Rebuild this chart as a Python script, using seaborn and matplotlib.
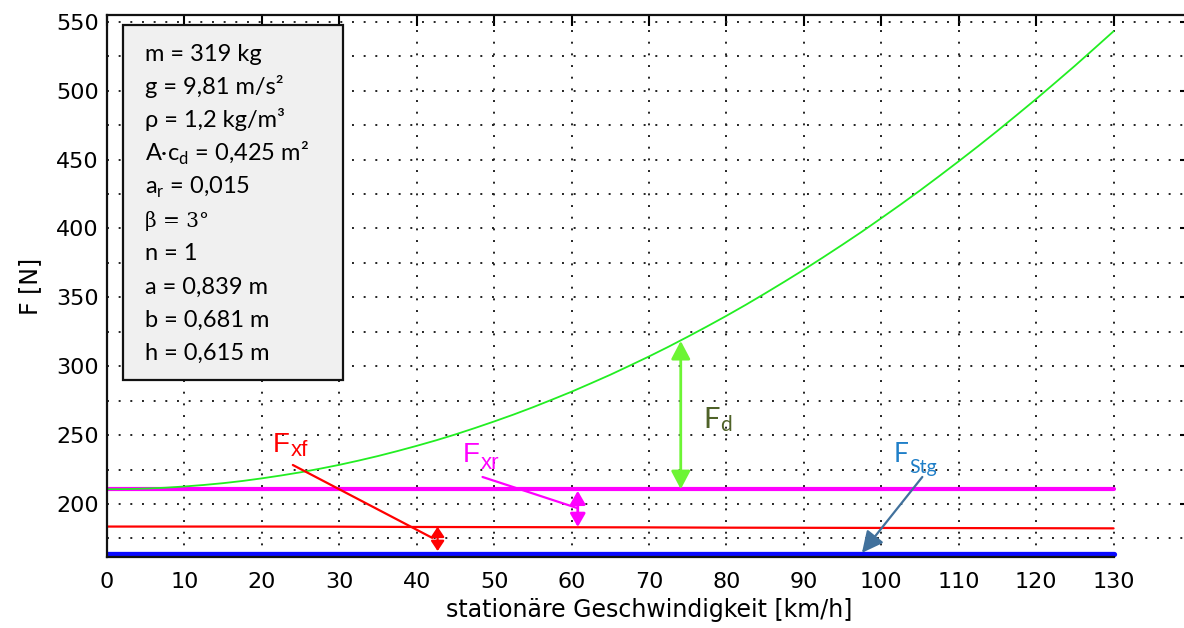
import matplotlib
matplotlib.use("Agg")
import matplotlib.pyplot as plt
import seaborn as sns
from matplotlib.patches import Rectangle
from matplotlib.ticker import MultipleLocator, FixedLocator

# ---- data -------------------------------------------------------------
# total driving resistance F_Stg + F_R + F_d over speed
speed_curve = [0, 2.5, 5, 7.5, 10, 12.5, 15, 17.5, 20, 22.5, 25, 27.5, 30,
               32.5, 35, 37.5, 40, 42.5, 45, 47.5, 50, 52.5, 55, 57.5, 60,
               62.5, 65, 67.5, 70, 72.5, 75, 77.5, 80, 82.5, 85, 87.5, 90,
               92.5, 95, 97.5, 100, 102.5, 105, 107.5, 110, 112.5, 115,
               117.5, 120, 122.5, 125, 127.5, 130]
force_total = [210.7, 210.8, 211.2, 211.8, 212.7, 213.8, 215.1, 216.7,
               218.6, 220.7, 223.0, 225.6, 228.4, 231.5, 234.8, 238.4,
               242.2, 246.2, 250.5, 255.1, 259.9, 264.9, 270.2, 275.8,
               281.5, 287.6, 293.8, 300.4, 307.1, 314.1, 321.4, 328.9,
               336.6, 344.6, 352.9, 361.4, 370.1, 379.1, 388.3, 397.7,
               407.5, 417.4, 427.6, 438.1, 448.8, 459.7, 470.9, 482.4,
               494.0, 506.0, 518.1, 530.6, 543.2]

# axle forces and slope force
speed_axle = [0, 10, 20, 30, 40, 50, 60, 70, 80, 90, 100, 110, 120, 130]
force_front = [183.6, 183.6, 183.6, 183.5, 183.3, 183.2, 183.1, 183.0,
               182.8, 182.7, 182.6, 182.5, 182.4, 182.3]
force_rear = [210.7, 210.7, 210.7, 210.7, 210.7, 210.7, 210.7, 210.7,
              210.7, 210.7, 210.7, 210.7, 210.7, 210.7]
force_slope = [163.8, 163.8, 163.8, 163.8, 163.8, 163.8, 163.8, 163.8,
               163.8, 163.8, 163.8, 163.8, 163.8, 163.8]

x_ticks = [0, 10, 20, 30, 40, 50, 60, 70, 80, 90, 100, 110, 120, 130]
y_ticks = [200, 250, 300, 350, 400, 450, 500, 550]

params = ["m = 319 kg", "g = 9,81 m/s²", "ρ = 1,2 kg/m³",
          r"A·c$_\mathregular{d}$ = 0,425 m²", r"a$_\mathregular{r}$ = 0,015",
          "β = 3°", "n = 1", "a = 0,839 m", "b = 0,681 m", "h = 0,615 m"]

# ---- figure -----------------------------------------------------------
sns.set_style("white")
plt.rcParams["font.family"] = ["DejaVu Sans"]
plt.rcParams.update({"text.color": "black", "axes.labelcolor": "black",
                     "xtick.color": "black", "ytick.color": "black"})

W, H = 1184, 628
fig = plt.figure(figsize=(W / 100, H / 100), dpi=100)
ax = fig.add_axes([107 / W, 1 - 557 / H, (1191 - 107) / W, (557 - 15) / H])

sns.lineplot(x=speed_axle, y=force_slope, ax=ax, color="#0a0aff", lw=3.8)
sns.lineplot(x=speed_axle, y=force_front, ax=ax, color="#ff0000", lw=1.6)
sns.lineplot(x=speed_axle, y=force_rear, ax=ax, color="#ff00ff", lw=3.0)
sns.lineplot(x=speed_curve, y=force_total, ax=ax, color="#22ee22", lw=1.3)

ax.set_xlim(0, 140)
ax.set_ylim(161.5, 555)

ax.xaxis.set_major_locator(FixedLocator(x_ticks))
ax.yaxis.set_major_locator(FixedLocator(y_ticks))
ax.yaxis.set_minor_locator(MultipleLocator(25))
ax.tick_params(axis="both", which="major", direction="in", length=8, width=1.5,
               labelsize=16, top=True, right=True)
ax.tick_params(axis="y", which="minor", direction="in", length=4, width=1.2,
               right=True)
ax.tick_params(axis="y", which="major", pad=6)
ax.tick_params(axis="x", which="major", pad=11)

dots = (0, (1, 5))
ax.grid(True, axis="x", which="major", linestyle=dots, color="#222222", lw=1.4)
ax.grid(True, axis="y", which="both", linestyle=dots, color="#222222", lw=1.4)
ax.set_axisbelow(True)

for s in ax.spines.values():
    s.set_linewidth(1.6)
    s.set_color("#111111")
ax.spines["bottom"].set_bounds(0, 130)

ax.set_xlabel("stationäre Geschwindigkeit [km/h]", fontsize=17, labelpad=4)
ax.set_ylabel("F [N]", fontsize=17, labelpad=10)

# ---- annotations ------------------------------------------------------
def double_arrow(x, y0, y1, color, hl, hw, lw):
    ax.annotate("", xy=(x, y1), xytext=(x, y0),
                arrowprops=dict(arrowstyle=f"<|-|>,head_length={hl},head_width={hw}",
                                color=color, lw=lw, shrinkA=0, shrinkB=0,
                                mutation_scale=20))

def force_label(x, y, sub, color, size, sub_size, drop, family):
    base = ax.text(x, y, "F", color=color, fontsize=size, va="baseline",
                   ha="left", family=family)
    ax.annotate(sub, xy=(1, 0), xycoords=base, xytext=(0.5, -drop),
                textcoords="offset points", color=color, fontsize=sub_size,
                va="baseline", ha="left", family=family)

double_arrow(74.1, 210.7, 318.4, "#6cf534", 0.55, 0.29, 2.0)
double_arrow(60.8, 183.3, 209.6, "#ff00ff", 0.4, 0.23, 2.0)
double_arrow(42.7, 165.8, 183.5, "#ff0000", 0.3, 0.2, 1.6)

ax.plot([24.0, 42.0], [228.3, 175.4], color="#ff0000", lw=1.6)
ax.plot([48.5, 60.7], [219.6, 197.1], color="#ff00ff", lw=1.6)
ax.annotate("", xy=(97.5, 164.5), xytext=(105.3, 219.6),
            arrowprops=dict(arrowstyle="-|>,head_length=0.65,head_width=0.32",
                            color="#41719c", lw=1.6, shrinkA=0, shrinkB=0,
                            mutation_scale=20))

sans = ["Liberation Sans", "DejaVu Sans"]
soft = ["Lato", "DejaVu Sans"]
force_label(21.4, 238.0, "xf", "#ff0000", 20, 16, -1.5, sans)
force_label(46.0, 230.4, "xr", "#ff00ff", 20, 16, 0.5, sans)
force_label(77.0, 255.1, "d", "#4f6228", 21, 15, -1.5, soft)
force_label(101.6, 230.4, "Stg", "#1f7fc8", 19, 14, 4.0, soft)

# ---- parameter box ----------------------------------------------------
fig.patches.append(Rectangle((123 / W, 1 - 380 / H), 220 / W, 355 / H,
                             transform=fig.transFigure, facecolor="#f0f0f0",
                             edgecolor="#111111", lw=1.6, zorder=5))
for i, line in enumerate(params):
    y = 1 - (61 + 33.2 * i) / H
    if line.startswith("β"):
        fig.text(145 / W, y, line, fontsize=14.5, va="baseline", ha="left",
                 family=["DejaVu Serif"], zorder=6)
    else:
        fig.text(145 / W, y, line, fontsize=17, va="baseline", ha="left",
                 family=soft, zorder=6)

fig.savefig("out.png", dpi=100)
